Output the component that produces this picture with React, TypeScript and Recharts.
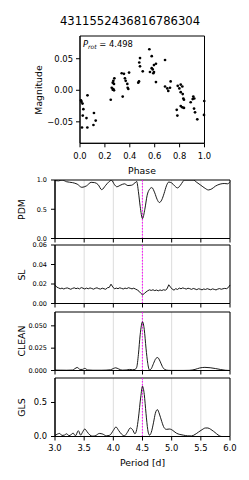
import React from 'react';
import {
  ScatterChart, Scatter, LineChart, Line, XAxis, YAxis, CartesianGrid,
  ReferenceLine, ReferenceArea,
} from 'recharts';

const TITLE = '4311552436816786304';
const PROT = 4.498;

// Phase-folded light curve
const phase = [
  0.008, 0.012, 0.020, 0.027, 0.060, 0.052, 0.016, 0.059, 0.112, 0.126, 0.108, 0.022,
  0.247, 0.255, 0.263, 0.268, 0.273, 0.263, 0.268, 0.276, 0.273, 0.335, 0.353, 0.394, 0.361, 0.367, 0.380, 0.383, 0.388, 0.343,
  0.482, 0.476, 0.482, 0.474, 0.468, 0.504, 0.557, 0.576, 0.610, 0.594, 0.576, 0.584, 0.562, 0.594, 0.589, 0.610, 0.683,
  0.683, 0.701, 0.709, 0.723, 0.728, 0.785, 0.798, 0.809, 0.809, 0.822, 0.825, 0.830, 0.835, 0.777, 0.782, 0.809, 0.822, 0.835,
  0.889, 0.905, 0.910, 0.918, 0.916, 0.924, 0.942, 0.998, 0.996,
];
const mag = [
  -0.016, -0.018, -0.021, -0.030, -0.008, -0.044, -0.059, -0.059, -0.036, -0.048, -0.055, -0.040,
  -0.015, 0.004, 0.001, 0.002, 0.000, 0.012, 0.015, 0.019, 0.010, 0.027, 0.026, 0.028, 0.019, 0.015, 0.010, 0.004, 0.002, -0.010,
  0.051, 0.044, 0.038, 0.014, 0.012, 0.030, 0.065, 0.054, 0.042, 0.040, 0.035, 0.033, 0.029, 0.029, 0.027, 0.013, 0.048,
  0.006, 0.003, -0.001, 0.004, 0.014, 0.007, 0.003, 0.009, -0.003, 0.006, -0.006, -0.013, -0.015, -0.031, -0.040, -0.025, -0.027, -0.028,
  -0.019, -0.014, -0.010, -0.013, -0.029, -0.035, -0.046, -0.017, -0.039,
];
const phaseTicks = [0, 0.2, 0.4, 0.6, 0.8, 1.0];
const magTicks = [-0.05, 0, 0.05];

// Periodograms
const periodTicks = [3.0, 3.5, 4.0, 4.5, 5.0, 5.5, 6.0];

const pdmP = [3.00, 3.06, 3.12, 3.20, 3.30, 3.38, 3.46, 3.54, 3.62, 3.68, 3.74, 3.80, 3.87, 3.93, 3.97, 4.02, 4.06, 4.13, 4.19, 4.25, 4.31, 4.37, 4.40, 4.43, 4.46, 4.50, 4.54, 4.58, 4.62, 4.66, 4.71, 4.75, 4.79, 4.83, 4.87, 4.91, 4.95, 5.00, 5.05, 5.10, 5.15, 5.19, 5.22, 5.37, 5.43, 5.50, 5.57, 5.63, 5.69, 5.75, 5.83, 5.90, 5.96, 6.00];
const pdmV = [0.99, 0.985, 1.0, 0.97, 0.955, 0.93, 0.875, 0.90, 0.96, 0.955, 0.92, 0.835, 0.91, 0.975, 0.995, 0.92, 0.885, 0.915, 0.935, 0.905, 0.91, 0.95, 0.975, 0.80, 0.55, 0.34, 0.50, 0.74, 0.84, 0.87, 0.78, 0.67, 0.615, 0.66, 0.77, 0.90, 0.965, 0.95, 0.90, 0.865, 0.91, 0.97, 1.0, 1.0, 0.96, 0.91, 0.86, 0.83, 0.85, 0.895, 0.93, 0.94, 0.935, 0.97];
const pdmTicks = [0, 0.5, 1.0];

const slP = [3.00, 3.03, 3.06, 3.09, 3.12, 3.15, 3.18, 3.21, 3.24, 3.27, 3.30, 3.33, 3.36, 3.39, 3.42, 3.45, 3.48, 3.51, 3.54, 3.57, 3.60, 3.63, 3.66, 3.69, 3.72, 3.75, 3.78, 3.81, 3.84, 3.87, 3.90, 3.93, 3.96, 3.99, 4.02, 4.05, 4.08, 4.11, 4.14, 4.17, 4.20, 4.23, 4.26, 4.29, 4.32, 4.35, 4.38, 4.41, 4.44, 4.47, 4.50, 4.53, 4.56, 4.59, 4.62, 4.65, 4.68, 4.71, 4.74, 4.77, 4.80, 4.83, 4.86, 4.89, 4.92, 4.95, 4.98, 5.01, 5.04, 5.07, 5.10, 5.13, 5.16, 5.19, 5.22, 5.25, 5.28, 5.31, 5.34, 5.37, 5.40, 5.43, 5.46, 5.49, 5.52, 5.55, 5.58, 5.61, 5.64, 5.67, 5.70, 5.73, 5.76, 5.79, 5.82, 5.85, 5.88, 5.91, 5.94, 5.97, 6.00];
const slV = [0.0190, 0.0168, 0.0160, 0.0152, 0.0158, 0.0149, 0.0156, 0.0160, 0.0153, 0.0146, 0.0155, 0.0161, 0.0152, 0.0158, 0.0150, 0.0163, 0.0157, 0.0149, 0.0158, 0.0151, 0.0160, 0.0154, 0.0147, 0.0156, 0.0161, 0.0152, 0.0148, 0.0157, 0.0151, 0.0146, 0.0162, 0.0165, 0.0198, 0.0170, 0.0150, 0.0158, 0.0152, 0.0161, 0.0155, 0.0149, 0.0158, 0.0153, 0.0162, 0.0156, 0.0150, 0.0157, 0.0148, 0.0139, 0.0126, 0.0105, 0.0088, 0.0102, 0.0118, 0.0131, 0.0140, 0.0134, 0.0141, 0.0132, 0.0138, 0.0130, 0.0139, 0.0133, 0.0141, 0.0136, 0.0150, 0.0192, 0.0168, 0.0147, 0.0137, 0.0152, 0.0144, 0.0158, 0.0151, 0.0160, 0.0154, 0.0148, 0.0157, 0.0152, 0.0145, 0.0154, 0.0149, 0.0142, 0.0151, 0.0147, 0.0140, 0.0149, 0.0144, 0.0152, 0.0146, 0.0141, 0.0150, 0.0145, 0.0139, 0.0148, 0.0153, 0.0146, 0.0151, 0.0155, 0.0152, 0.0163, 0.0190];
const slTicks = [0, 0.02, 0.04, 0.06];

const cleanP = [3.00, 3.10, 3.20, 3.30, 3.34, 3.38, 3.43, 3.47, 3.51, 3.56, 3.65, 3.80, 3.95, 4.00, 4.04, 4.09, 4.15, 4.22, 4.28, 4.33, 4.37, 4.40, 4.43, 4.46, 4.50, 4.53, 4.56, 4.59, 4.62, 4.65, 4.69, 4.73, 4.76, 4.80, 4.84, 4.88, 4.94, 5.00, 5.10, 5.20, 5.30, 5.40, 5.48, 5.57, 5.66, 5.75, 5.84, 5.92, 6.00];
const cleanV = [0.0005, 0.0004, 0.0003, 0.0005, 0.0020, 0.0034, 0.0012, 0.0012, 0.0024, 0.0006, 0.0003, 0.0003, 0.0008, 0.0022, 0.0030, 0.0018, 0.0004, 0.0006, 0.0012, 0.0008, 0.0012, 0.0035, 0.0180, 0.0400, 0.0545, 0.0460, 0.0250, 0.0080, 0.0005, 0.0020, 0.0080, 0.0135, 0.0145, 0.0105, 0.0045, 0.0012, 0.0002, 0.0001, 0.0001, 0.0001, 0.0002, 0.0012, 0.0028, 0.0035, 0.0031, 0.0022, 0.0011, 0.0003, 0.0];
const cleanTicks = [0, 0.025, 0.05];

const glsP = [3.00, 3.04, 3.08, 3.12, 3.16, 3.20, 3.24, 3.28, 3.31, 3.35, 3.40, 3.44, 3.47, 3.51, 3.55, 3.60, 3.65, 3.70, 3.76, 3.82, 3.88, 3.94, 4.00, 4.045, 4.09, 4.14, 4.19, 4.24, 4.29, 4.33, 4.37, 4.40, 4.43, 4.47, 4.50, 4.53, 4.56, 4.59, 4.62, 4.65, 4.69, 4.72, 4.755, 4.79, 4.83, 4.87, 4.91, 4.96, 5.00, 5.04, 5.08, 5.14, 5.20, 5.27, 5.34, 5.40, 5.46, 5.52, 5.58, 5.62, 5.67, 5.72, 5.77, 5.82, 5.86, 6.00];
const glsV = [0.015, 0.035, 0.045, 0.015, 0.02, 0.04, 0.012, 0.03, 0.05, 0.01, 0.085, 0.02, 0.06, 0.11, 0.07, 0.02, 0.005, 0.015, 0.045, 0.035, 0.01, 0.02, 0.09, 0.14, 0.09, 0.035, 0.01, 0.06, 0.125, 0.10, 0.04, 0.10, 0.27, 0.58, 0.74, 0.62, 0.34, 0.10, 0.02, 0.06, 0.21, 0.34, 0.395, 0.33, 0.22, 0.13, 0.105, 0.11, 0.10, 0.075, 0.05, 0.03, 0.02, 0.01, 0.008, 0.03, 0.065, 0.10, 0.125, 0.125, 0.105, 0.075, 0.04, 0.01, 0.0, 0.0];
const glsTicks = [0, 0.5];

const FONT = 'DejaVu Sans';
const zip = (xs: number[], ys: number[]) => xs.map((p, i) => ({ p, v: ys[i] }));
const minus = (s: string) => s.replace('-', '\u2212');

type PanelProps = {
  top: number;
  data: { p: number; v: number }[];
  domainMax: number;
  yTicks: number[];
  yFmt: (v: number) => string;
  yFont: number;
  showX: boolean;
  monotone: boolean;
};

const PLOT_H = 58.5;
const PAD = 6;

function Panel({ top, data, domainMax, yTicks, yFmt, yFont, showX, monotone }: PanelProps) {
  const xH = showX ? 20 : 6;
  return (
    <div style={{ position: 'absolute', left: 0, top: top - PAD }}>
      <LineChart width={249} height={PLOT_H + PAD + xH} data={data}
        margin={{ top: PAD, right: 19, bottom: 0, left: 0 }}>
        <CartesianGrid horizontal={false} stroke="#dcdcdc" strokeWidth={1} />
        <XAxis type="number" dataKey="p" domain={[3, 6]} ticks={periodTicks} interval={0}
          height={xH} tickSize={4} tickMargin={5}
          tickFormatter={(v: number) => (showX ? v.toFixed(1) : '')}
          tick={{ fontSize: 8.4, fill: '#000', fontFamily: FONT }}
          tickLine={{ stroke: '#000' }} axisLine={{ stroke: '#000' }} />
        <YAxis type="number" domain={[0, domainMax]} ticks={yTicks} interval={0} width={55}
          tickSize={4} tickMargin={4} tickFormatter={yFmt} allowDataOverflow
          tick={{ fontSize: yFont, fill: '#000', fontFamily: FONT }}
          tickLine={{ stroke: '#000' }} axisLine={{ stroke: '#000' }} />
        <ReferenceLine x={PROT} stroke="#ff00ff" strokeDasharray="1.5 1.5" strokeWidth={1} />
        <Line type={monotone ? 'monotone' : 'linear'} dataKey="v" stroke="#000" strokeWidth={0.9}
          dot={false} isAnimationActive={false} />
        <ReferenceArea x1={3} x2={6} y1={0} y2={domainMax} fill="none" stroke="#000" strokeWidth={1} />
      </LineChart>
    </div>
  );
}

export default function App() {
  const lc = phase.map((ph, i) => ({ phase: ph, mag: mag[i] }));
  const magDomain: [number, number] = [-0.084, 0.086];
  return (
    <div style={{ position: 'fixed', left: 0, top: 0, width: 249, height: 480, background: '#fff', overflow: 'hidden' }}>
      <div style={{ position: 'absolute', left: 0, top: 0 }}>
        <ScatterChart width={249} height={180} margin={{ top: 36, right: 44.5, bottom: 6.7, left: 0 }}>
          <XAxis type="number" dataKey="phase" domain={[0, 1]} ticks={phaseTicks} interval={0}
            height={30} tickSize={4} tickMargin={6} tickFormatter={(v: number) => v.toFixed(1)}
            tick={{ fontSize: 8.4, fill: '#000', fontFamily: FONT }}
            tickLine={{ stroke: '#000' }} axisLine={{ stroke: '#000' }} />
          <YAxis type="number" dataKey="mag" domain={magDomain} ticks={magTicks} interval={0}
            width={80} tickSize={4} tickMargin={3} allowDataOverflow
            tickFormatter={(v: number) => minus(v.toFixed(2))}
            tick={{ fontSize: 8.4, fill: '#000', fontFamily: FONT }}
            tickLine={{ stroke: '#000' }} axisLine={{ stroke: '#000' }} />
          <Scatter data={lc} isAnimationActive={false}
            shape={(props: any) => <circle cx={props.cx} cy={props.cy} r={1.35} fill="#000" />} />
          <ReferenceArea x1={0} x2={1} y1={magDomain[0]} y2={magDomain[1]} fill="none" stroke="#000" strokeWidth={1} />
        </ScatterChart>
      </div>

      <Panel top={180} data={zip(pdmP, pdmV)} domainMax={1.0} yTicks={pdmTicks}
        yFmt={(v) => v.toFixed(1)} yFont={6.5} showX={false} monotone />
      <Panel top={245.3} data={zip(slP, slV)} domainMax={0.06} yTicks={slTicks}
        yFmt={(v) => v.toFixed(2)} yFont={6.5} showX={false} monotone={false} />
      <Panel top={311.7} data={zip(cleanP, cleanV)} domainMax={0.0655} yTicks={cleanTicks}
        yFmt={(v) => v.toFixed(3)} yFont={6.5} showX={false} monotone />
      <Panel top={378.3} data={zip(glsP, glsV)} domainMax={0.86} yTicks={glsTicks}
        yFmt={(v) => v.toFixed(1)} yFont={8.4} showX monotone />

      <svg width={249} height={480} style={{ position: 'absolute', left: 0, top: 0, pointerEvents: 'none' }}
        fontFamily={FONT}>
        <text x={130} y={25} textAnchor="middle" fontSize={11.6} fill="#000">{TITLE}</text>
        <text x={83} y={46.5} fontSize={8.4} fill="#000">
          <tspan fontStyle="italic">P</tspan>
          <tspan fontSize={6} fontStyle="italic" dy={2}>rot</tspan>
          <tspan dy={-2}>{' = ' + PROT.toFixed(3)}</tspan>
        </text>
        <text x={142} y={174} textAnchor="middle" fontSize={9.3} fill="#000">Phase</text>
        <text transform="translate(41.5,90) rotate(-90)" textAnchor="middle" fontSize={9.3} fill="#000">Magnitude</text>
        <text transform="translate(24.5,209.5) rotate(-90)" textAnchor="middle" fontSize={9.3} fill="#000">PDM</text>
        <text transform="translate(24.5,275) rotate(-90)" textAnchor="middle" fontSize={9.3} fill="#000">SL</text>
        <text transform="translate(24.5,341) rotate(-90)" textAnchor="middle" fontSize={9.3} fill="#000">CLEAN</text>
        <text transform="translate(24.5,407.5) rotate(-90)" textAnchor="middle" fontSize={9.3} fill="#000">GLS</text>
        <text x={142.5} y={466} textAnchor="middle" fontSize={9.3} fill="#000">Period [d]</text>
      </svg>
    </div>
  );
}
